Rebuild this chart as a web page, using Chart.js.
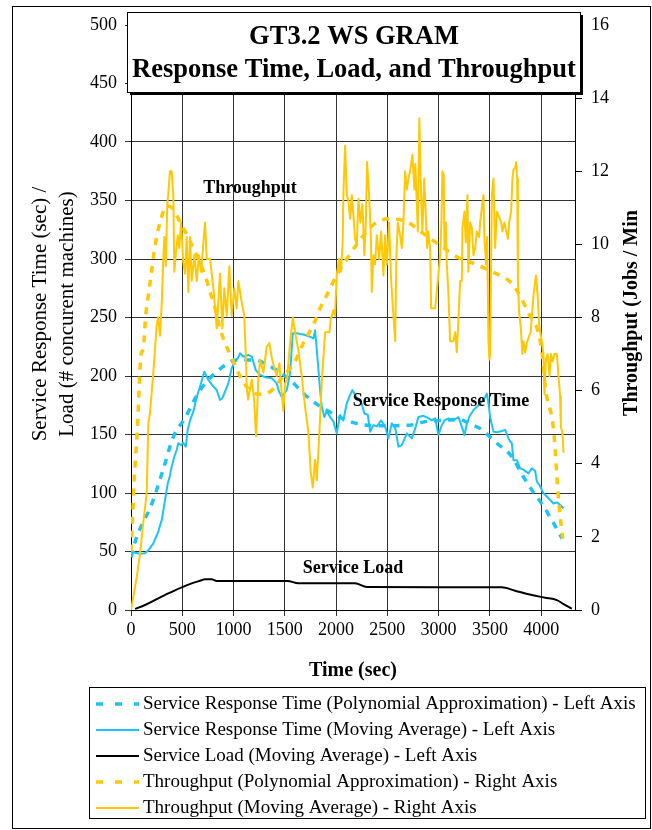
<!DOCTYPE html>
<html>
<head>
<meta charset="utf-8">
<script src="https://cdn.jsdelivr.net/npm/chart.js@4.4.1/dist/chart.umd.min.js"></script>
<style>
  html, body { margin: 0; padding: 0; background: #fff; }
  #wrap { width: 652px; height: 830px; }
</style>
</head>
<body>
<div id="wrap"><canvas id="chart" width="652" height="830"></canvas></div>
<script>
// Time axis (sec) and tick values
const xTicks = [0, 500, 1000, 1500, 2000, 2500, 3000, 3500, 4000];
const leftTicks = [0, 50, 100, 150, 200, 250, 300, 350, 400, 450, 500];
const rightTicks = [0, 2, 4, 6, 8, 10, 12, 14, 16];

// Throughput (moving average) - right axis
const tputAvgT = [0,56,88,120,153,169,185,218,233,251,266,283,300,315,325,339,354,364,380,397,413,422,436,456,471,488,510,527,543,559,576,592,618,641,663,683,702,722,739,771,787,803,820,836,868,891,910,934,959,982,1008,1031,1047,1080,1105,1119,1129,1141,1178,1200,1220,1242,1259,1291,1324,1349,1373,1395,1421,1447,1470,1486,1502,1522,1551,1578,1600,1632,1665,1698,1730,1753,1773,1795,1812,1837,1860,1893,1935,1948,1974,1990,2006,2029,2049,2065,2071,2088,2104,2120,2137,2153,2169,2185,2202,2218,2237,2257,2276,2290,2302,2322,2339,2348,2364,2380,2397,2420,2439,2462,2478,2495,2517,2537,2559,2576,2588,2602,2624,2641,2657,2673,2690,2705,2722,2744,2764,2773,2797,2812,2826,2842,2860,2888,2900,2917,2927,2966,2982,3015,3027,3037,3050,3057,3070,3080,3096,3112,3144,3161,3177,3193,3210,3226,3232,3252,3265,3281,3290,3307,3324,3340,3356,3373,3395,3405,3421,3437,3446,3463,3473,3486,3495,3502,3519,3535,3551,3568,3583,3610,3622,3642,3656,3676,3688,3707,3720,3730,3746,3756,3766,3773,3785,3802,3817,3827,3844,3860,3883,3898,3915,3929,3949,3966,3980,4006,4022,4032,4046,4062,4081,4095,4113,4127,4153,4169,4185,4192,4208,4217];
const tputAvgV = [0,0.9,1.55,2.4,3.2,5.1,5.4,6.5,7.1,7.8,8.0,7.5,8.4,9.6,10.2,9.4,11.1,11.4,12.0,12.0,11.3,9.25,9.7,10.25,9.9,10.6,9.5,9.2,10.2,8.7,10.2,9.0,9.7,9.0,9.7,9.25,9.9,10.6,9.6,9.6,9.2,8.8,8.25,7.7,9.2,7.7,8.8,8.05,9.4,8.05,8.8,8.25,9.0,8.4,8.05,7.0,6.1,5.75,6.3,5.75,4.75,6.3,6.85,6.5,7.2,7.3,6.9,6.65,6.4,6.75,5.9,5.45,6.2,6.3,7.3,8.0,7.6,7.1,6.4,5.55,4.85,3.75,3.35,4.1,3.55,4.85,6.2,7.6,7.6,7.95,8.2,8.05,9.15,9.6,9.25,10.1,11.35,12.7,11.35,11.2,10.7,11.35,10.8,10.15,10.0,11.25,10.6,11.1,9.7,10.6,12.25,11.35,10.25,8.7,9.7,9.45,10.25,9.6,10.35,9.15,10.25,9.45,10.6,9.0,8.05,7.35,9.7,10.6,10.25,9.9,10.6,12.0,11.5,11.8,12.0,12.45,11.5,12.2,10.35,13.45,11.7,10.35,11.8,9.9,10.35,9.9,8.25,8.25,8.7,9.7,10.6,12.0,11.9,9.9,10.6,9.45,8.6,7.35,7.35,7.6,7.05,7.95,9.0,9.0,10.45,10.9,10.05,11.35,9.25,10.6,10.45,9.7,9.9,10.35,10.2,10.6,11.0,11.35,10.2,9.45,10.2,7.35,6.85,7.0,11.35,11.8,9.9,10.9,10.8,10.6,10.35,10.6,10.4,10.15,10.6,10.9,11.8,12.05,12.1,12.25,11.8,9.0,8.15,7.7,7.0,7.35,7.05,7.3,7.5,7.6,8.25,8.7,9.15,8.6,7.8,7.35,7.0,5.9,6.85,7.0,6.4,7.0,6.8,7.0,7.0,6.4,5.85,5.0,4.85,4.3];

// Throughput (polynomial approximation) - right axis
const tputFitT = [0,20,30,45,65,78,98,120,143,169,195,234,283,348,400,480,573,656,722,771,820,868,917,998,1063,1161,1260,1356,1486,1600,1681,1778,1844,1925,2023,2104,2202,2348,2510,2705,2800,2900,3000,3185,3366,3522,3707,3802,3880,3966,4010,4045,4108,4130,4152,4178,4210];
const tputFitV = [1.6,2.8,3.5,4.2,5.1,6.0,7.0,7.15,8.05,8.6,9.15,9.95,10.6,11.05,11.0,10.6,10.1,9.6,9.15,8.7,8.25,7.7,7.3,6.8,6.4,6.0,5.9,5.97,6.4,6.8,7.3,7.8,8.25,8.7,9.25,9.6,10.0,10.5,10.7,10.6,10.4,10.2,10.0,9.65,9.45,9.25,8.95,8.55,8.1,7.65,7.0,6.0,5.2,4.65,3.7,2.75,1.95];

// Service response time (moving average) - left axis
const respAvgT = [0,39,88,137,169,218,266,300,332,358,380,397,422,446,461,488,510,534,553,576,608,641,673,715,754,793,836,868,891,917,949,982,1008,1041,1063,1096,1144,1178,1217,1259,1307,1373,1421,1444,1470,1519,1551,1578,1617,1698,1746,1779,1795,1812,1844,1860,1886,1909,1941,1974,2006,2039,2071,2104,2137,2159,2202,2244,2276,2309,2332,2364,2397,2439,2478,2510,2543,2576,2608,2641,2690,2738,2771,2803,2852,2900,2934,2966,2998,3031,3057,3096,3144,3193,3226,3252,3275,3298,3340,3388,3421,3454,3470,3486,3502,3535,3568,3617,3649,3681,3698,3714,3730,3763,3795,3827,3876,3909,3941,3958,3990,4022,4055,4088,4120,4153,4185,4218];
const respAvgV = [51,49,48,48.5,51,57,67,77,94,108,115,122.5,131,137,142.5,141,143,139.6,154,162,169.5,182,191,203.7,196.6,192,188,179.5,181,186.6,193.7,206.6,212,215,219.4,216.5,218,216.5,205,201,199,198,193.7,186.6,182,188,202,236.5,236.5,235,233.6,232,239,222,188,174,165,170,165,161,151,166.7,162,176.7,183.8,188,181,178,168,167,152.4,158,157,162,157,146.7,159.6,156,139.6,141,151,146.7,155,165,166,164,162,163.8,149.6,158,162,163.8,162,165,156.7,149.6,159,165,171,175,178,182,185,177,165,152.4,152,153,154,146.7,144,142.5,128,128,121,120,116.8,121,119,109.7,106,99.7,97,94,91,92,89.7,86.9];

// Service response time (polynomial approximation) - left axis
const respFitT = [0,46,202,315,413,534,608,705,868,1024,1200,1363,1551,1698,1876,2218,2478,2722,2868,3047,3193,3307,3405,3568,3714,3812,3909,4015,4112,4205];
const respFitV = [45,60,90.6,120.5,148,165,178,191.7,206,213.7,213.7,208,196.6,183.8,172.4,159,157.5,158,161,162,163,159,155,142.5,131,116,102.6,89.7,75.5,61];

// Service load (moving average) - left axis
const loadT = [40,137,266,364,494,592,673,722,787,836,1527,1632,2185,2300,3616,3746,3909,4039,4153,4218,4299];
const loadV = [1,4.3,10,14.2,19.4,22.8,25,26.2,26.2,24.8,24.8,22.8,22.8,19.6,19.4,16.5,12.8,10.5,8.5,5.1,1.1];

const BLUE = '#1EC3F3';
const GOLD = '#FFC805';
const SERIF = "'Liberation Serif', 'Times New Roman', serif";

const pts = (ts, vs) => ts.map((t, i) => ({ x: t, y: vs[i] }));

const legendItems = [
    { label: 'Service Response Time (Polynomial Approximation) - Left Axis', color: BLUE, dash: [7, 12], width: 3.5 },
    { label: 'Service Response Time (Moving Average) - Left Axis', color: BLUE, dash: [], width: 2 },
    { label: 'Service Load (Moving Average) - Left Axis', color: '#000', dash: [], width: 2 },
    { label: 'Throughput (Polynomial Approximation) - Right Axis', color: GOLD, dash: [7, 12], width: 3.5 },
    { label: 'Throughput (Moving Average) - Right Axis', color: GOLD, dash: [], width: 2 }
];

function drawText(ctx, str, x, y, font, align, angle) {
    ctx.save();
    ctx.translate(x, y);
    if (angle) ctx.rotate(angle);
    ctx.font = font;
    ctx.textAlign = align || 'center';
    ctx.textBaseline = 'middle';
    ctx.fillStyle = '#000';
    ctx.fillText(str, 0, 0);
    ctx.restore();
}

// Title box, annotations, axis titles, legend and frame
const decorations = {
    id: 'decorations',
    afterDraw(chart) {
        const ctx = chart.ctx;
        ctx.save();

        // title box with shadow
        ctx.fillStyle = '#000';
        ctx.fillRect(130, 15, 453, 80);
        ctx.fillStyle = '#fff';
        ctx.fillRect(127, 12, 453, 80);
        ctx.strokeStyle = '#000';
        ctx.lineWidth = 1;
        ctx.strokeRect(127.5, 12.5, 453, 80);
        drawText(ctx, 'GT3.2 WS GRAM', 354, 37, 'bold 26.5px ' + SERIF);
        drawText(ctx, 'Response Time, Load, and Throughput', 354, 70, 'bold 26.5px ' + SERIF);

        // in-plot labels
        drawText(ctx, 'Throughput', 250, 188, 'bold 18px ' + SERIF);
        drawText(ctx, 'Service Response Time', 441, 401, 'bold 18px ' + SERIF);
        drawText(ctx, 'Service Load', 353, 568, 'bold 18px ' + SERIF);

        // axis titles
        drawText(ctx, 'Service Response Time (sec) /', 40, 314, '21px ' + SERIF, 'center', -Math.PI / 2);
        drawText(ctx, 'Load (# concurent machines)', 67, 314, '21px ' + SERIF, 'center', -Math.PI / 2);
        drawText(ctx, 'Throughput (Jobs / Min', 632, 313, 'bold 20px ' + SERIF, 'center', -Math.PI / 2);
        drawText(ctx, 'Time (sec)', 353, 671, 'bold 20px ' + SERIF);

        // legend
        ctx.strokeStyle = '#000';
        ctx.lineWidth = 1;
        ctx.strokeRect(89.5, 687.5, 556, 131);
        legendItems.forEach((item, i) => {
            const y = 704 + i * 26;
            ctx.save();
            ctx.strokeStyle = item.color;
            ctx.lineWidth = item.width;
            ctx.setLineDash(item.dash);
            ctx.beginPath();
            ctx.moveTo(96, y);
            ctx.lineTo(139, y);
            ctx.stroke();
            ctx.restore();
            drawText(ctx, item.label, 143, y, '19px ' + SERIF, 'left');
        });

        // outer frame
        ctx.strokeStyle = '#000';
        ctx.lineWidth = 1;
        ctx.strokeRect(12.5, 6.5, 638, 822);
        ctx.restore();
    }
};

const tickFont = { family: SERIF, size: 18 };
const plainLabel = v => String(v);

new Chart(document.getElementById('chart'), {
    type: 'line',
    data: {
        datasets: [
            { data: pts(tputAvgT, tputAvgV), yAxisID: 'y2', borderColor: GOLD, borderWidth: 2 },
            { data: pts(tputFitT, tputFitV), yAxisID: 'y2', borderColor: GOLD, borderWidth: 3.5, borderDash: [7, 7], cubicInterpolationMode: 'monotone' },
            { data: pts(loadT, loadV), yAxisID: 'y', borderColor: '#000', borderWidth: 2, cubicInterpolationMode: 'monotone' },
            { data: pts(respAvgT, respAvgV), yAxisID: 'y', borderColor: BLUE, borderWidth: 2 },
            { data: pts(respFitT, respFitV), yAxisID: 'y', borderColor: BLUE, borderWidth: 3.5, borderDash: [7, 7], cubicInterpolationMode: 'monotone' }
        ]
    },
    options: {
        responsive: false,
        animation: false,
        events: [],
        layout: { padding: { left: 12, right: 0, top: 25, bottom: 150 } },
        elements: { point: { radius: 0 }, line: { tension: 0, borderJoinStyle: 'round' } },
        plugins: { legend: { display: false }, tooltip: { enabled: false } },
        scales: {
            x: {
                type: 'linear', min: 0, max: 4330,
                afterBuildTicks: axis => { axis.ticks = xTicks.map(v => ({ value: v })); },
                afterFit: scale => { scale.height = 70; },
                ticks: { font: tickFont, color: '#000', padding: 3, maxRotation: 0, callback: plainLabel },
                grid: { color: '#333', tickLength: 6 },
                border: { color: '#000' }
            },
            y: {
                position: 'left', min: 0, max: 500,
                afterBuildTicks: axis => { axis.ticks = leftTicks.map(v => ({ value: v })); },
                afterFit: scale => { scale.width = 119; },
                ticks: { font: tickFont, color: '#000', padding: 8, callback: plainLabel },
                grid: { color: '#333', tickLength: 6 },
                border: { color: '#000' }
            },
            y2: {
                position: 'right', min: 0, max: 16,
                afterBuildTicks: axis => { axis.ticks = rightTicks.map(v => ({ value: v })); },
                afterFit: scale => { scale.width = 77; },
                ticks: { font: tickFont, color: '#000', padding: 9, callback: plainLabel },
                grid: { drawOnChartArea: false, color: '#000', tickLength: 7 },
                border: { color: '#000' }
            }
        }
    },
    plugins: [decorations]
});
</script>
</body>
</html>
